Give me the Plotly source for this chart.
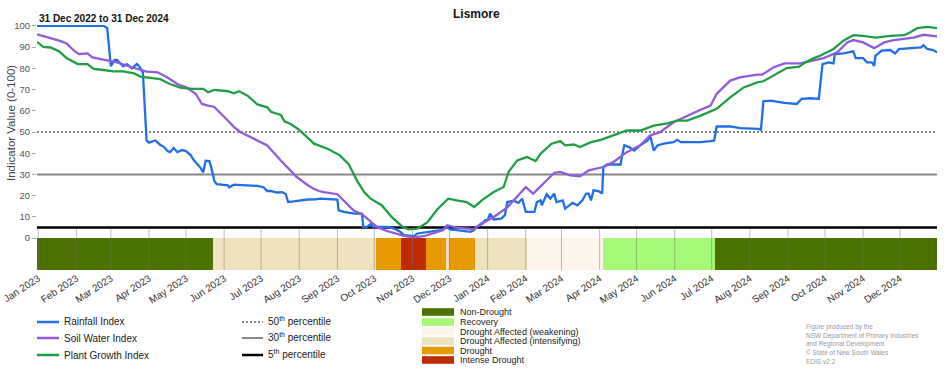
import plotly.graph_objects as go
import pandas as pd

# ---------------- data ----------------
START = pd.Timestamp("2022-12-31")
END = pd.Timestamp("2024-12-31")

# days since 31 Dec 2022
rain_days = [0, 54, 57, 60, 63, 65, 70, 73, 77, 81,
             83, 86, 89, 91, 96, 100, 103, 106, 108, 111,
             114, 118, 121, 125, 127, 130, 133, 135, 137, 140,
             141, 144, 146, 155, 156, 160, 171, 179, 184, 187,
             190, 195, 199, 202, 204, 214, 220, 226, 230, 244,
             245, 249, 253, 258, 264, 265, 268, 271, 273, 284,
             290, 295, 298, 306, 309, 320, 328, 333, 336, 341,
             348, 352, 355, 357, 362, 364, 366, 368, 371, 377,
             380, 382, 387, 391, 394, 397, 404, 406, 409, 410,
             414, 417, 420, 422, 427, 429, 435, 439, 443, 446,
             448, 450, 452, 456, 459, 460, 463, 474, 475, 477,
             481, 485, 490, 496, 498, 501, 504, 509, 517, 520,
             523, 539, 547, 550, 552, 563, 571, 580, 586, 588,
             590, 596, 607, 617, 621, 628, 635, 638, 643, 647,
             648, 655, 663, 665, 671, 674, 678, 680, 681, 686,
             693, 697, 700, 710, 718, 720, 723, 728, 731]
rain_vals = [100, 100, 99, 81, 84, 84, 81, 82, 80, 82,
             81, 78, 46, 45, 46, 44, 43, 41, 40.5, 42.5,
             40.5, 41.5, 41, 39, 37, 35, 33, 31, 36.5, 36.3,
             34.5, 27, 25.4, 24.9, 24, 25.2, 24.9, 24.6, 24, 22.2,
             22.2, 21.5, 21.7, 20.8, 17, 17.8, 18.2, 18.3, 18.6, 18.2,
             13.1, 12.4, 11.9, 11.6, 11.6, 5.3, 5.3, 6.6, 5.3, 5.3,
             4.5, 3, 1.4, 0.9, 2.2, 3, 3.8, 5, 4, 3.8,
             3.4, 3, 3.8, 5.3, 6.9, 8.5, 8.5, 11.6, 8.8, 9.2,
             10.8, 17, 17.6, 16.6, 18.6, 12.4, 12.4, 17, 17.8, 15.5,
             20.7, 18.6, 21, 17, 17.8, 13.9, 16.6, 15.5, 17.8, 21,
             21, 17.8, 22.5, 22.2, 21, 33.5, 34.7, 34.7, 38.2, 43.7,
             42.9, 41.3, 43.7, 46, 48.4, 41.3, 43.7, 44.5, 45.2, 46.3,
             45.2, 45.2, 45.7, 46, 52.6, 52.6, 51.8, 51.8, 51.5, 51,
             64.5, 64.8, 63.7, 63.2, 65.6, 65.9, 65.6, 82, 82.8, 82.3,
             86.7, 87, 88, 84.8, 84.8, 82.8, 82.8, 81.2, 85.9, 88.3,
             88.6, 87, 89.1, 89.5, 89.8, 90.9, 89.1, 88.6, 87.5]

soil_days = [0, 11, 18, 24, 30, 34, 41, 45, 52, 60,
             65, 73, 81, 89, 98, 106, 114, 122, 129, 134,
             139, 144, 155, 160, 165, 176, 187, 198, 209, 211,
             220, 224, 229, 233, 244, 249, 257, 265, 271, 276,
             284, 295, 299, 306, 314, 322, 330, 333, 338, 341,
             355, 361, 364, 368, 371, 382, 390, 397, 403, 411,
             420, 425, 433, 441, 448, 460, 468, 479, 490, 498,
             506, 517, 528, 539, 547, 552, 563, 571, 585, 589,
             598, 607, 620, 631, 639, 650, 658, 663, 671, 680,
             688, 696, 704, 712, 720, 731]
soil_vals = [96, 94.2, 93, 91.7, 88.3, 86.7, 87, 85.1, 84.4, 83.6,
             82.8, 81.2, 79.7, 78.4, 78.1, 75.7, 72.6, 70.8, 67.9, 63.2,
             62.4, 61.8, 55.4, 52.3, 50, 46.8, 43.7, 36.6, 30.4, 28.8,
             24.9, 23.5, 22.2, 21.7, 20.7, 17.8, 13.1, 10.8, 8, 5.3,
             3.4, 1.8, 0.9, 0.4, 0.9, 2.3, 3.8, 6.1, 5.6, 5,
             4.2, 7, 7.7, 9, 10, 14.5, 19.4, 24, 21, 25.6,
             30.7, 31.2, 29.6, 29.1, 31.9, 33.5, 35.8, 40.5, 43.7, 48.4,
             49.9, 54.6, 57.7, 60.5, 62.4, 67.9, 74.2, 75.7, 77, 77,
             80.4, 82.3, 82.3, 83.6, 84.8, 87.5, 92.2, 93.3, 92.2, 89.5,
             92.2, 93.3, 93.8, 94.5, 95.8, 95]

plant_days = [0, 5, 11, 18, 24, 33, 41, 46, 54, 62,
              70, 79, 84, 92, 100, 108, 117, 127, 135, 139,
              144, 155, 160, 164, 168, 171, 179, 187, 190, 198,
              201, 206, 213, 225, 236, 246, 253, 260, 266, 271,
              280, 288, 297, 302, 309, 317, 325, 334, 341, 349,
              355, 363, 371, 379, 383, 390, 398, 405, 409, 418,
              425, 429, 436, 441, 450, 458, 468, 479, 490, 501,
              512, 520, 528, 539, 552, 563, 574, 585, 590, 601,
              609, 619, 624, 631, 636, 647, 655, 663, 671, 681,
              693, 704, 709, 715, 723, 731]
plant_vals = [92.5, 90.1, 89.8, 88, 84.8, 82, 82, 79.7, 79.2, 78.6,
              78.6, 77.6, 76.1, 75.4, 74.9, 72.6, 70.8, 70.3, 70.3, 68.7,
              69.8, 69.2, 68.2, 69.2, 67.9, 67.1, 63, 61.6, 59.5, 58,
              55, 53.8, 51, 44.5, 42.1, 39, 35, 27, 21.5, 18.6,
              15.5, 10, 5.3, 4.1, 4.5, 7.4, 13.5, 18.6, 17.8, 17,
              14.7, 18.6, 21.7, 24.1, 31.2, 36.6, 38.2, 36.3, 39.8, 44.5,
              45.7, 43.7, 44.1, 42.9, 45.2, 46.3, 48.4, 50.7, 50.7, 53,
              54.1, 55.4, 55.4, 57.7, 60.9, 66.3, 71, 73.4, 73.9, 77.6,
              80.1, 80.8, 82.8, 84.8, 85.9, 89.1, 93, 95.6, 95.3, 94.5,
              95.3, 95.6, 96.9, 98.9, 99.5, 98.9]

series_names = ["Rainfall Index", "Soil Water Index", "Plant Growth Index"]
series_colors = ["#1F6FE8", "#8E5CDD", "#1F9E45"]

stage_names = ["Non-Drought", "Recovery", "Drought Affected (weakening)",
               "Drought Affected (intensifying)", "Drought", "Intense Drought"]
stage_colors = ["#4B7100", "#A5F976", "#FDF5E9", "#EEE2BF", "#E69A00", "#BF2B00"]

period_starts = ["2022-12-31", "2023-05-23", "2023-10-02", "2023-10-23", "2023-11-12",
                 "2023-11-28", "2023-12-01", "2023-12-22", "2024-02-02", "2024-04-04",
                 "2024-07-04"]
period_ends = ["2023-05-23", "2023-10-02", "2023-10-23", "2023-11-12", "2023-11-28",
               "2023-12-01", "2023-12-22", "2024-02-02", "2024-04-04", "2024-07-04",
               "2024-12-31"]
period_stage = ["Non-Drought", "Drought Affected (intensifying)", "Drought", "Intense Drought",
                "Drought", "Drought Affected (intensifying)", "Drought",
                "Drought Affected (intensifying)", "Drought Affected (weakening)",
                "Recovery", "Non-Drought"]

percentile_levels = [50, 30, 5]
percentile_labels = ["50<sup>th</sup> percentile", "30<sup>th</sup> percentile",
                     "5<sup>th</sup> percentile"]
percentile_colors = ["#888888", "#888888", "#000000"]
percentile_dash = ["2px,2px", "solid", "solid"]
percentile_width = [2, 2, 2.5]

y_ticks = [0, 10, 20, 30, 40, 50, 60, 70, 80, 90, 100]
credit_lines = ["Figure produced by the", "NSW Department of Primary Industries",
                "and Regional Development", "\u00a9 State of New South Wales", "EDIS v2.2"]

# ---------------- geometry helpers (pixel -> paper) ----------------
W, H = 952, 370
L, R, T, B = 37, 937, 25, 270
BAND_BASE = -15


def fx(p):
    return (p - L) / (R - L)


def fy(p):
    return (B - p) / (B - T)


FONT = "Liberation Sans, Arial, sans-serif"

fig = go.Figure()

# drought category band
stage_color_map = dict(zip(stage_names, stage_colors))
starts = pd.to_datetime(period_starts)
ends = pd.to_datetime(period_ends)
widths = [(e - s).total_seconds() * 1000 for s, e in zip(starts, ends)]
fig.add_trace(go.Bar(
    x=starts, y=[-BAND_BASE] * len(starts), base=BAND_BASE, width=widths, offset=0,
    marker=dict(color=[stage_color_map[s] for s in period_stage], line=dict(width=0)),
    hoverinfo="skip", showlegend=False))

# index lines
for name, days, vals, col in zip(series_names, [rain_days, soil_days, plant_days],
                                 [rain_vals, soil_vals, plant_vals], series_colors):
    fig.add_trace(go.Scatter(
        x=START + pd.to_timedelta(days, unit="D"), y=vals, mode="lines", name=name,
        line=dict(color=col, width=2.3), showlegend=False))

shapes = []
# percentile reference lines
for lvl, c, d, w in zip(percentile_levels, percentile_colors, percentile_dash, percentile_width):
    shapes.append(dict(type="line", xref="paper", yref="y", x0=0, x1=1, y0=lvl, y1=lvl,
                       line=dict(color=c, width=w, dash=d), layer="below"))

# monthly gridlines in the category band region
for m in pd.date_range("2023-01-01", "2024-12-01", freq="MS"):
    shapes.append(dict(type="line", xref="x", yref="y", x0=m, x1=m, y0=BAND_BASE, y1=4.5,
                       line=dict(color="rgba(110,110,110,0.45)", width=1), layer="above"))

annotations = []
# title & subtitle
annotations.append(dict(text="<b>Lismore</b>", xref="paper", yref="paper", x=fx(476), y=fy(14),
                        xanchor="center", yanchor="middle", showarrow=False,
                        font=dict(family=FONT, size=12, color="#111")))
annotations.append(dict(text="<b>31 Dec 2022 to 31 Dec 2024</b>", xref="paper", yref="paper",
                        x=fx(37), y=fy(18), xanchor="left", yanchor="middle", showarrow=False,
                        font=dict(family=FONT, size=10, color="#111")))
# y-axis title
annotations.append(dict(text="Indicator Value (0-100)", xref="paper", yref="paper",
                        x=fx(11), y=fy(123), xanchor="center", yanchor="middle", textangle=-90,
                        showarrow=False, font=dict(family=FONT, size=11.5, color="#444")))

# legend: index lines
line_rows = [322, 338, 355]
for name, col, yy in zip(series_names, series_colors, line_rows):
    shapes.append(dict(type="line", xref="paper", yref="paper", x0=fx(37), x1=fx(59),
                       y0=fy(yy), y1=fy(yy), line=dict(color=col, width=2.5)))
    annotations.append(dict(text=name, xref="paper", yref="paper", x=fx(62), y=fy(yy),
                            xanchor="left", yanchor="middle", showarrow=False,
                            font=dict(family=FONT, size=10, color="#222")))

# legend: percentiles
for lab, c, d, w, yy in zip(percentile_labels, percentile_colors, percentile_dash,
                            percentile_width, line_rows):
    shapes.append(dict(type="line", xref="paper", yref="paper", x0=fx(242), x1=fx(263),
                       y0=fy(yy), y1=fy(yy), line=dict(color=c, width=w, dash=d)))
    annotations.append(dict(text=lab, xref="paper", yref="paper", x=fx(266), y=fy(yy - 1),
                            xanchor="left", yanchor="middle", showarrow=False,
                            font=dict(family=FONT, size=10, color="#222")))

# legend: drought categories
stage_rows = [312, 322, 331.5, 341, 350.5, 360]
for name, col, yy in zip(stage_names, stage_colors, stage_rows):
    shapes.append(dict(type="rect", xref="paper", yref="paper", x0=fx(422), x1=fx(454),
                       y0=fy(yy + 3.8), y1=fy(yy - 3.8), fillcolor=col, line=dict(width=0)))
    annotations.append(dict(text=name, xref="paper", yref="paper", x=fx(458), y=fy(yy),
                            xanchor="left", yanchor="middle", showarrow=False,
                            font=dict(family=FONT, size=9, color="#222")))

# credits
for i, line in enumerate(credit_lines):
    annotations.append(dict(text=line, xref="paper", yref="paper", x=fx(804), y=fy(327 + 8.6 * i),
                            xanchor="left", yanchor="middle", showarrow=False,
                            font=dict(family=FONT, size=6.5, color="#9a9a9a")))

fig.update_layout(
    width=W, height=H,
    margin=dict(l=L, r=W - R, t=T, b=H - B, pad=0),
    paper_bgcolor="white", plot_bgcolor="white",
    showlegend=False, bargap=0,
    font=dict(family=FONT, color="#333"),
    shapes=shapes, annotations=annotations,
)
fig.update_xaxes(type="date", range=[START, END], tick0="2023-01-01", dtick="M1",
                 tickformat="%b %Y", tickangle=-33, showgrid=False, zeroline=False,
                 showline=False, ticks="", automargin=False,
                 tickfont=dict(family=FONT, size=10, color="#333"))
fig.update_yaxes(range=[BAND_BASE, 100.4], tickvals=y_ticks, ticks="outside", ticklen=4,
                 tickcolor="#aaaaaa", showgrid=False, zeroline=False, showline=False,
                 automargin=False, tickfont=dict(family=FONT, size=9.5, color="#555"))

fig.write_html("out.html", config={"displayModeBar": False},
               post_script="document.body.style.margin='0px';")
